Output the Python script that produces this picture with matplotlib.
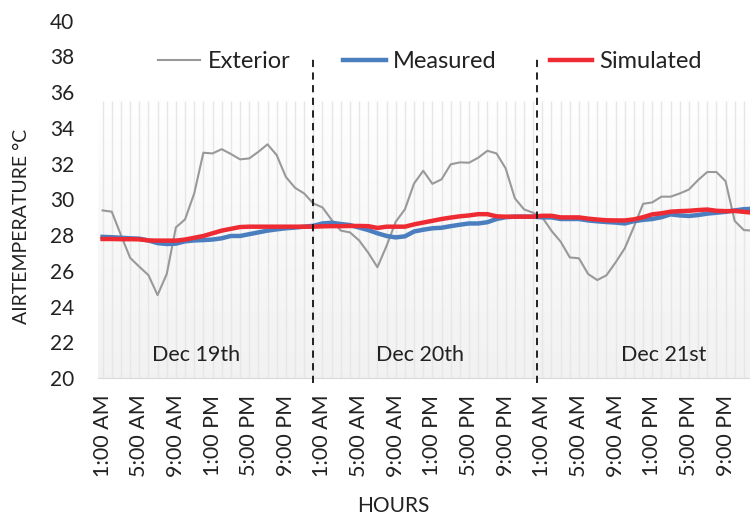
import numpy as np
import matplotlib
matplotlib.use("Agg")
import matplotlib.pyplot as plt

plt.rcParams['font.family'] = ['Lato', 'DejaVu Sans']

hours = ["1:00 AM", "5:00 AM", "9:00 AM", "1:00 PM", "5:00 PM", "9:00 PM"] * 3
days = ["Dec 19th", "Dec 20th", "Dec 21st"]

exterior = [29.38, 29.31, 28.0, 26.73, 26.23, 25.76, 24.64, 25.82, 28.43, 28.88, 30.33, 32.61,
            32.57, 32.81, 32.54, 32.24, 32.29, 32.66, 33.08, 32.48, 31.26, 30.65, 30.33, 29.77,
            29.55, 28.85, 28.25, 28.15, 27.7, 27.01, 26.2, 27.4, 28.75, 29.44, 30.89, 31.6,
            30.87, 31.12, 31.96, 32.07, 32.05, 32.33, 32.72, 32.57, 31.73, 30.06, 29.44, 29.25,
            28.99, 28.24, 27.63, 26.75, 26.7, 25.82, 25.48, 25.75, 26.47, 27.26, 28.47, 29.75,
            29.83, 30.15, 30.15, 30.33, 30.55, 31.08, 31.53, 31.53, 31.02, 28.79, 28.28, 28.25]
measured = [27.9, 27.88, 27.85, 27.82, 27.8, 27.7, 27.55, 27.5, 27.52, 27.65, 27.7, 27.72,
            27.75, 27.82, 27.95, 27.95, 28.05, 28.15, 28.25, 28.32, 28.38, 28.42, 28.47, 28.52,
            28.65, 28.69, 28.62, 28.56, 28.42, 28.28, 28.1, 27.95, 27.87, 27.93, 28.2, 28.3,
            28.38, 28.41, 28.5, 28.58, 28.65, 28.65, 28.72, 28.9, 29.0, 29.03, 29.03, 29.03,
            28.99, 28.99, 28.9, 28.9, 28.9, 28.82, 28.77, 28.73, 28.7, 28.65, 28.78, 28.85,
            28.9, 29.0, 29.16, 29.1, 29.07, 29.12, 29.2, 29.25, 29.3, 29.38, 29.45, 29.47]
simulated = [27.78, 27.78, 27.77, 27.77, 27.76, 27.7, 27.69, 27.69, 27.69, 27.75, 27.85, 27.95,
             28.1, 28.25, 28.35, 28.45, 28.47, 28.47, 28.47, 28.47, 28.47, 28.47, 28.47, 28.47,
             28.49, 28.5, 28.5, 28.51, 28.51, 28.5, 28.4, 28.47, 28.47, 28.47, 28.6, 28.7,
             28.8, 28.9, 28.98, 29.05, 29.1, 29.17, 29.17, 29.05, 29.03, 29.03, 29.03, 29.03,
             29.08, 29.08, 28.99, 28.99, 28.99, 28.92, 28.87, 28.83, 28.82, 28.82, 28.88, 29.0,
             29.16, 29.22, 29.31, 29.34, 29.36, 29.4, 29.43, 29.36, 29.34, 29.35, 29.3, 29.25]

x = np.arange(len(exterior))

fig = plt.figure(figsize=(7.5, 5.18), dpi=100)
ax = fig.add_axes([0.1307, 0.2703, 0.8693, 0.6897])
ax.set_xlim(-0.5, 70.67)
ax.set_ylim(20, 40)

# background gradient panel with faint stripes
grad = np.linspace(0.945, 0.995, 100).reshape(-1, 1)
ax.imshow(grad, extent=[-0.5, 72, 20, 35.5], origin='lower', cmap='gray', vmin=0, vmax=1,
          aspect='auto', zorder=0)
ax.vlines(x, 20, 35.5, color='#e6e6e6', lw=1.0, zorder=1)

ax.plot(x, exterior, color='#999999', lw=1.5, zorder=3, label='Exterior')
ax.plot(x, measured, color='#4a7ebf', lw=3.2, zorder=4, label='Measured')
ax.plot(x, simulated, color='#ee2a33', lw=3.2, zorder=5, label='Simulated')

for xd in [23.0, 47.4]:
    ax.vlines(xd, 19.7, 37.9, color='#111111', lw=1.3, linestyles=(0, (4, 3)), zorder=6,
              clip_on=False)

for xp, d in zip([10.2, 34.7, 61.2], days):
    ax.text(xp, 21.3, d, ha='center', va='center', fontsize=15.5, color='#222222', zorder=7)

ax.set_xticks(np.arange(0, 72, 4))
ax.set_xticklabels(hours, rotation=90, fontsize=15.5, color='#222222')
ax.set_yticks(np.arange(20, 41, 2))
ax.tick_params(axis='y', labelsize=15, colors='#222222', length=0, pad=17)
ax.tick_params(axis='x', length=0, pad=12)
for s in ['top', 'right', 'left']:
    ax.spines[s].set_visible(False)
ax.spines['bottom'].set_color('#d9d9d9')

fig.text(22 / 750, 1 - 226 / 518, 'AIRTEMPERATURE °C', rotation=90, ha='center', va='center',
         fontsize=14, color='#222222')
fig.text(393 / 750, 1 - 506 / 518, 'HOURS', ha='center', va='center',
         fontsize=15, color='#222222')

leg = ax.legend(loc='center', bbox_to_anchor=(0.509, 0.885), ncol=3, frameon=False,
                fontsize=17, handlelength=1.8, handletextpad=0.3, columnspacing=2.25)
for t in leg.get_texts():
    t.set_color('#222222')

fig.savefig('out.png', dpi=100)
